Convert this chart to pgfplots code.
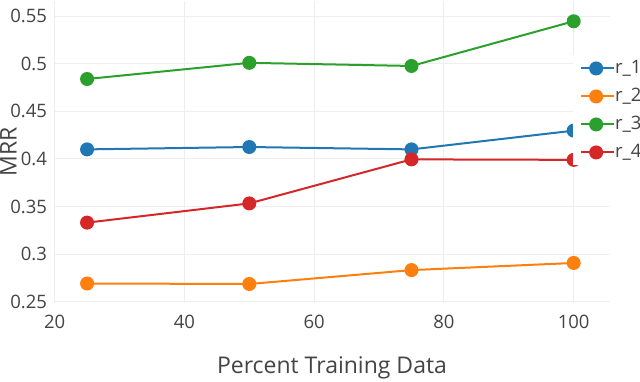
\documentclass[border=0pt]{standalone}
\usepackage{fontspec}
\setmainfont{Open Sans}
\usepackage{pgfplots}
\pgfplotsset{compat=1.18}
\definecolor{txt}{HTML}{444444}
\definecolor{gridc}{HTML}{EEEEEE}
\definecolor{c1}{HTML}{1F77B4}
\definecolor{c2}{HTML}{FF7F0E}
\definecolor{c3}{HTML}{2CA02C}
\definecolor{c4}{HTML}{D62728}

\begin{document}
\begin{tikzpicture}
\begin{axis}[
    name=ax,
    set layers,
    mark layer=pre main,
    scale only axis,
    width=278pt, height=151pt,
    xmin=19.9, xmax=105.6,
    ymin=0.2485, ymax=0.566,
    xtick={20,40,60,80,100},
    ytick={0.25,0.3,0.35,0.4,0.45,0.5,0.55},
    yticklabels={0.25,0.3,0.35,0.4,0.45,0.5,0.55},
    grid=major,
    major grid style={gridc, line width=0.5pt},
    axis line style={draw=none},
    major tick length=0pt,
    tick label style={font=\fontsize{9.25}{10}\selectfont, text=txt},
    /pgf/number format/assume math mode=true,
    xticklabel style={yshift=-2.5pt},
    clip=false,
    every axis plot/.append style={line width=1pt, mark=*, mark size=3pt},
    legend style={at={(0.933,0.821)}, anchor=north west, fill=white, draw=none,
        font=\fontsize{9.25}{10}\selectfont, text=txt,
        inner xsep=3.5pt, inner ysep=2pt, row sep=5pt,
        nodes={inner sep=0pt, text height=7pt, text depth=2pt}},
    legend cell align=left,
    legend image code/.code={
        \draw[mark repeat=2, mark phase=2] plot coordinates {(0pt,0pt) (7.5pt,0pt) (15pt,0pt)};
        \path (15pt,0pt) -- (16.5pt,0pt);},
]
\addplot[c1, mark options={fill=c1, draw=c1}] coordinates {(25,0.410) (50,0.4125) (75,0.410) (100,0.4297)};
\addlegendentry{r\_1}
\addplot[c2, mark options={fill=c2, draw=c2}] coordinates {(25,0.269) (50,0.2685) (75,0.2831) (100,0.2906)};
\addlegendentry{r\_2}
\addplot[c3, mark options={fill=c3, draw=c3}] coordinates {(25,0.484) (50,0.501) (75,0.4977) (100,0.5447)};
\addlegendentry{r\_3}
\addplot[c4, mark options={fill=c4, draw=c4}] coordinates {(25,0.333) (50,0.3532) (75,0.3995) (100,0.399)};
\addlegendentry{r\_4}
\end{axis}
\node[txt, font=\fontsize{11.5}{12}\selectfont] at ([yshift=-32.5pt]ax.south) {Percent Training Data};
\node[txt, font=\fontsize{11.5}{12}\selectfont, rotate=90] at ([xshift=-22.75pt]ax.west) {MRR};
\pgfresetboundingbox
\path[use as bounding box] ([shift={(-27pt,-39pt)}]ax.south west) rectangle ([shift={(15pt,0.5pt)}]ax.north east);
\end{tikzpicture}
\end{document}
